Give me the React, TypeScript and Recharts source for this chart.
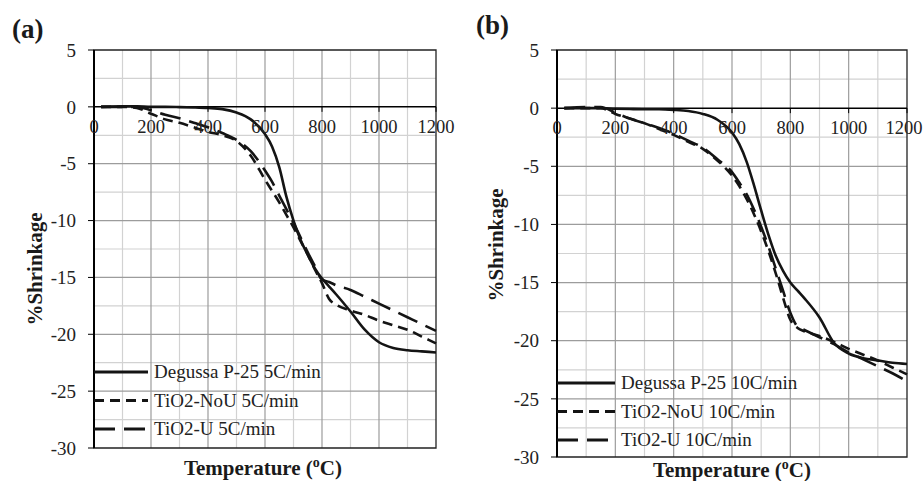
import React from 'react';
import {
  LineChart,
  Line,
  XAxis,
  YAxis,
  CartesianGrid,
  ReferenceLine,
  ReferenceArea,
  Legend,
  Label,
} from 'recharts';

const FONT = '"Liberation Serif", "Times New Roman", serif';
const INK = '#141414';

// temperature grid (°C) shared by every series
const temps = [25, 100, 150, 200, 250, 300, 350, 400, 450, 500, 550, 600, 625, 650, 675, 700, 725, 750, 775, 800, 825, 850, 900, 950, 1000, 1050, 1100, 1150, 1200];

// (a) 5C/min
const degussa5 = [0, 0.05, 0.05, 0, 0, -0.02, -0.05, -0.1, -0.2, -0.5, -1.1, -2.4, -3.5, -5.3, -7.9, -10.0, -11.7, -13.0, -14.2, -15.1, -15.8, -16.5, -18.0, -19.6, -20.7, -21.2, -21.4, -21.5, -21.6];
const noU5 = [0, 0, -0.1, -0.6, -1.1, -1.4, -1.8, -2.2, -2.5, -3.0, -4.3, -6.4, -7.4, -8.4, -9.5, -10.6, -11.8, -13.0, -14.3, -15.5, -16.9, -17.4, -17.9, -18.3, -18.8, -19.2, -19.6, -20.2, -20.8];
const u5 = [0, 0, 0, -0.3, -0.7, -1.0, -1.4, -1.8, -2.3, -2.9, -3.9, -5.6, -6.6, -7.8, -9.0, -10.2, -11.5, -12.8, -14.0, -15.2, -15.4, -15.7, -16.1, -16.7, -17.3, -17.9, -18.5, -19.1, -19.7];

// (b) 10C/min
const degussa10 = [0, 0, 0, -0.05, -0.08, -0.1, -0.1, -0.15, -0.25, -0.5, -1.0, -2.1, -3.1, -4.6, -6.6, -8.8, -10.9, -12.7, -14.0, -15.0, -15.7, -16.4, -18.0, -20.2, -21.1, -21.5, -21.7, -21.9, -22.0];
const noU10 = [0, 0, 0, -0.5, -0.9, -1.3, -1.8, -2.3, -2.9, -3.5, -4.5, -5.8, -6.7, -7.8, -9.1, -10.6, -12.3, -14.2, -16.3, -18.2, -18.9, -19.2, -19.6, -20.1, -20.7, -21.2, -21.7, -22.3, -22.9];
const u10 = [0, 0.1, 0.1, -0.4, -0.9, -1.3, -1.7, -2.2, -2.8, -3.4, -4.4, -5.5, -6.4, -7.4, -8.7, -10.2, -11.9, -13.8, -15.7, -17.6, -18.8, -19.1, -19.7, -20.3, -21.0, -21.6, -22.2, -22.8, -23.5];

const namesA = ['Degussa P-25 5C/min', 'TiO2-NoU 5C/min', 'TiO2-U 5C/min'];
const namesB = ['Degussa P-25 10C/min', 'TiO2-NoU 10C/min', 'TiO2-U 10C/min'];

const xTicks = [0, 200, 400, 600, 800, 1000, 1200];
const xMinor = [100, 300, 500, 700, 900, 1100];
const xMajor = [200, 400, 600, 800, 1000];
const yTicks = [5, 0, -5, -10, -15, -20, -25, -30];
const yMinor = [2.5, -2.5, -7.5, -12.5, -17.5, -22.5, -27.5];
const yMajor = [-5, -10, -15, -20, -25];

const SERIES = [
  { key: 'degussa', dash: undefined as string | undefined },
  { key: 'noU', dash: '10 6' },
  { key: 'u', dash: '21 9' },
];

const buildRows = (a: number[], b: number[], c: number[]) =>
  temps.map((t, i) => ({ t, degussa: a[i], noU: b[i], u: c[i] }));

const dataA = buildRows(degussa5, noU5, u5);
const dataB = buildRows(degussa10, noU10, u10);

type PanelProps = {
  data: any[];
  names: string[];
  width: number;
  height: number;
  margin: { top: number; right: number; bottom: number; left: number };
  yLabel: { x: number; y: number };
  xLabel: { x: number; y: number };
  legend: { left: number; top: number; line: number };
  lastTickShift?: number;
};

function Panel({ data, names, width, height, margin, yLabel, xLabel, legend, lastTickShift = 0 }: PanelProps) {
  // x axis takes 1px at the top, so the plot starts one pixel lower
  const plotTop = margin.top + 1;
  const plotH = height - plotTop - margin.bottom;
  // x axis crosses at y = 0 (domain 5..-30)
  const zeroY = plotTop + (plotH * 5) / 35;

  const XTick = ({ x, payload }: any) => (
    <g>
      <line x1={x} x2={x} y1={zeroY} y2={zeroY + 5} stroke="#000" strokeWidth={1} />
      <text
        x={x + (payload.value === 1200 ? lastTickShift : 0)}
        y={zeroY + 26}
        textAnchor="middle"
        fontSize={18.5}
        fontFamily={FONT}
        fill="#222"
      >
        {payload.value}
      </text>
    </g>
  );

  const renderLegend = () => (
    <svg width={320} height={90} style={{ display: 'block' }}>
      {SERIES.map((s, i) => {
        const cy = 14 + i * 28.5;
        return (
          <g key={s.key}>
            <line x1={0} x2={legend.line} y1={cy} y2={cy} stroke={INK} strokeWidth={3} strokeDasharray={s.dash} />
            <text x={legend.line + 6} y={cy + 6} fontSize={19} fontFamily={FONT} fill="#222">
              {names[i]}
            </text>
          </g>
        );
      })}
    </svg>
  );

  return (
    <LineChart width={width} height={height} data={data} margin={margin}>
      <CartesianGrid stroke="#d2d2d2" strokeWidth={1.2} verticalValues={xMinor} horizontalValues={yMinor} />
      <CartesianGrid stroke="#9c9c9c" strokeWidth={1.2} verticalValues={xMajor} horizontalValues={yMajor} />
      <XAxis
        dataKey="t"
        type="number"
        domain={[0, 1200]}
        ticks={xTicks}
        orientation="top"
        height={1}
        axisLine={false}
        tickLine={false}
        tick={<XTick />}
        interval={0}
      >
        <Label
          content={() => (
            <text x={xLabel.x} y={xLabel.y} textAnchor="middle" fontSize={21} fontWeight="bold" fontFamily={FONT} fill="#1a1a1a">
              Temperature (<tspan fontSize={14} dy={-8}>o</tspan>
              <tspan dy={8}>C)</tspan>
            </text>
          )}
        />
      </XAxis>
      <YAxis
        type="number"
        domain={[-30, 5]}
        ticks={yTicks}
        width={40}
        interval={0}
        tickSize={6}
        tickMargin={12}
        axisLine={{ stroke: '#000', strokeWidth: 2 }}
        tickLine={{ stroke: '#000' }}
        tick={{ fontSize: 19, fontFamily: FONT, fill: '#222' }}
      >
        <Label
          content={() => (
            <text
              transform={`translate(${yLabel.x},${yLabel.y}) rotate(-90)`}
              textAnchor="middle"
              dominantBaseline="central"
              fontSize={21}
              fontWeight="bold"
              fontFamily={FONT}
              fill="#1a1a1a"
            >
              %Shrinkage
            </text>
          )}
        />
      </YAxis>
      <ReferenceArea x1={0} x2={1200} y1={-30} y2={5} fill="none" stroke="#222" strokeWidth={1.3} fillOpacity={0} />
      <ReferenceLine y={0} stroke="#000" strokeWidth={1.5} />
      {SERIES.map((s, i) => (
        <Line
          key={s.key}
          dataKey={s.key}
          name={names[i]}
          type="monotone"
          stroke={INK}
          strokeWidth={2.6}
          strokeDasharray={s.dash}
          dot={false}
          activeDot={false}
          isAnimationActive={false}
        />
      ))}
      <Legend
        layout="vertical"
        align="center"
        verticalAlign="middle"
        content={renderLegend}
        wrapperStyle={{ left: legend.left, top: legend.top, width: 320, height: 90 }}
      />
    </LineChart>
  );
}

export default function App() {
  return (
    <div
      style={{
        position: 'absolute',
        left: 0,
        top: 0,
        width: 923,
        height: 481,
        background: '#fff',
        overflow: 'hidden',
        fontFamily: FONT,
      }}
    >
      <div style={{ position: 'absolute', left: 0, top: 0 }}>
        <Panel
          data={dataA}
          names={namesA}
          width={460}
          height={481}
          margin={{ top: 49, right: 24, bottom: 33, left: 54 }}
          yLabel={{ x: 35, y: 269 }}
          xLabel={{ x: 263, y: 475 }}
          legend={{ left: 94, top: 358, line: 54 }}
        />
      </div>
      <div style={{ position: 'absolute', left: 460, top: 0 }}>
        <Panel
          data={dataB}
          names={namesB}
          width={463}
          height={481}
          margin={{ top: 49, right: 16, bottom: 24, left: 57 }}
          yLabel={{ x: 36, y: 245 }}
          xLabel={{ x: 272, y: 477 }}
          legend={{ left: 97, top: 369, line: 58 }}
          lastTickShift={-3}
        />
      </div>
      <div style={{ position: 'absolute', left: 12, top: 16, fontSize: 27, lineHeight: '26px', fontWeight: 'bold', color: '#1a1a1a' }}>
        (a)
      </div>
      <div style={{ position: 'absolute', left: 476, top: 12, fontSize: 27, lineHeight: '26px', fontWeight: 'bold', color: '#1a1a1a' }}>
        (b)
      </div>
    </div>
  );
}
